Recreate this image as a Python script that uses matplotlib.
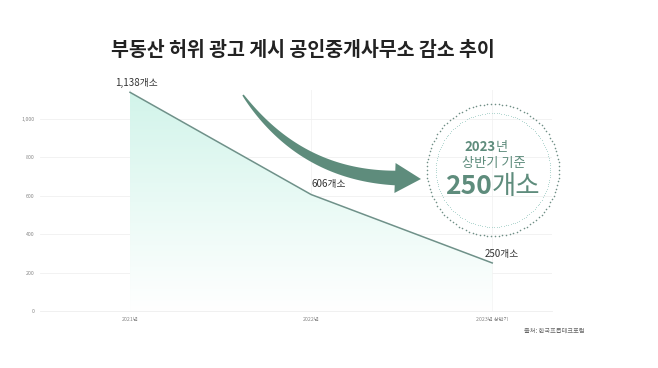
import numpy as np
import matplotlib
matplotlib.use("Agg")
import matplotlib.pyplot as plt
from matplotlib.patches import Polygon

plt.rcParams["font.family"] = ["Noto Sans CJK KR", "DejaVu Sans"]

# data
periods = ["2021년", "2022년", "2023년 상반기"]
offices = [1138, 606, 250]
value_labels = ["1,138개소", "606개소", "250개소"]
yticks = [0, 200, 400, 600, 800, 1000]

title = "부동산 허위 광고 게시 공인중개사무소 감소 추이"
source = "출처: 한국프롭테크포럼"

W, H = 658, 368
line_color = "#6f9189"
accent = "#5e8c7c"

fig = plt.figure(figsize=(W / 100, H / 100), dpi=100)
fig.patch.set_facecolor("white")

ax = fig.add_axes([40 / W, 1 - 311 / H, (552 - 40) / W, (311 - 90) / H])
x = np.arange(len(periods))
ax.set_xlim(-0.497, 2.33)
ax.set_ylim(0, 1150)

# gradient fill under the line
poly = Polygon(list(zip(x, offices)) + [(x[-1], 0), (x[0], 0)], closed=True,
               facecolor="none", edgecolor="none")
ax.add_patch(poly)
grad = np.linspace(0, 1, 256).reshape(-1, 1)
cmap = matplotlib.colors.LinearSegmentedColormap.from_list(
    "mint", ["#ffffff", "#e9faf5", "#d2f4ea"])
img = ax.imshow(grad, extent=[x[0], x[-1], 0, max(offices)], origin="lower",
                aspect="auto", cmap=cmap, zorder=1)
img.set_clip_path(poly)
ax.plot(x, offices, color=line_color, lw=1.1, zorder=3)

# label offsets in points (right, up)
label_offsets = [(5, 3), (13, 4), (7, 3)]
for xi, yi, lab, off in zip(x, offices, value_labels, label_offsets):
    ax.annotate(lab, (xi, yi), xytext=off, textcoords="offset points",
                ha="center", va="bottom", fontsize=7, color="#333333", zorder=4)

ax.set_yticks(yticks)
ax.set_yticklabels([f"{v:,}" for v in yticks], fontsize=3.8, color="#888888")
ax.set_xticks(x)
ax.set_xticklabels(periods, fontsize=3.8, color="#888888")
ax.tick_params(length=0, pad=4)
ax.grid(axis="y", color="#f0f0f0", lw=0.6)
ax.grid(axis="x", color="#f2f2f2", lw=0.6)
ax.set_axisbelow(True)
for s in ["top", "right", "left"]:
    ax.spines[s].set_visible(False)
ax.spines["bottom"].set_color("#eeeeee")
ax.spines["bottom"].set_linewidth(0.6)

# overlay in pixel coordinates for decorations
ov = fig.add_axes([0, 0, 1, 1], zorder=5)
ov.set_xlim(0, W)
ov.set_ylim(H, 0)
ov.axis("off")
ov.patch.set_alpha(0)

ov.text(303, 50, title, ha="center", va="center", fontsize=14,
        fontweight="bold", color="#222222")
ov.text(585, 331, source, ha="right", va="center", fontsize=4.5,
        color="#666666")

# curved tapered arrow
t = np.linspace(0, 1, 60)
p0, p1, p2 = np.array([243, 95]), np.array([300, 175]), np.array([395, 178])
curve = ((1 - t) ** 2)[:, None] * p0 + (2 * (1 - t) * t)[:, None] * p1 + (t ** 2)[:, None] * p2
d = np.gradient(curve, axis=0)
nrm = np.stack([-d[:, 1], d[:, 0]], axis=1)
nrm /= np.linalg.norm(nrm, axis=1)[:, None]
width = 0.8 + 6.5 * t ** 0.8
upper = curve + nrm * width[:, None]
lower = curve - nrm * width[:, None]
tip_dir = d[-1] / np.linalg.norm(d[-1])
tip_n = nrm[-1]
head = [curve[-1] + tip_n * 15, curve[-1] + tip_dir * 26, curve[-1] - tip_n * 15]
pts = np.vstack([upper, head, lower[::-1]])
ov.add_patch(Polygon(pts, closed=True, facecolor=accent, edgecolor="none"))

# dotted circles
cx, cy = 493, 170
ang = np.linspace(0, 2 * np.pi, 110, endpoint=False)
ov.scatter(cx + 66 * np.cos(ang), cy + 66 * np.sin(ang), s=1.3, color="#6f8f86",
           linewidths=0)
ang2 = np.linspace(0, 2 * np.pi, 150, endpoint=False)
ov.scatter(cx + 57 * np.cos(ang2), cy + 57 * np.sin(ang2), s=0.6, color="#a9d3cc",
           linewidths=0)

ov.text(496, 147, "2023", ha="right", va="center", fontsize=9.5,
        fontweight="bold", color=accent)
ov.text(496, 147, "년", ha="left", va="center", fontsize=9.5, color=accent)
ov.text(494, 163, "상반기 기준", ha="center", va="center", fontsize=9.5,
        color=accent)
ov.text(492, 186, "250", ha="right", va="center", fontsize=19,
        fontweight="bold", color=accent)
ov.text(492, 186, "개소", ha="left", va="center", fontsize=19, color=accent)

fig.savefig("out.png", dpi=100)
